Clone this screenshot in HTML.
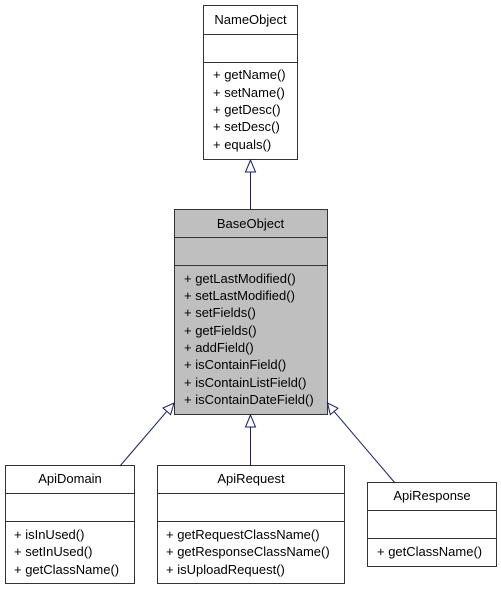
<!DOCTYPE html>
<html><head><meta charset="utf-8"><style>
html,body{margin:0;padding:0;background:#fff;}
svg{display:block;}
text{font-family:"Liberation Sans",Arial,sans-serif;font-size:13px;fill:#000;}
</style></head><body>
<svg width="501" height="589" viewBox="0 0 501 589" xmlns="http://www.w3.org/2000/svg">
<g stroke="#333" stroke-width="1" fill="#fff">
<rect x="203.5" y="5.5" width="94" height="154"/>
<line x1="203.5" y1="34.5" x2="297.5" y2="34.5"/>
<line x1="203.5" y1="62.5" x2="297.5" y2="62.5"/>
<rect x="174.5" y="209.5" width="153" height="205" fill="#bfbfbf"/>
<line x1="174.5" y1="237.5" x2="327.5" y2="237.5"/>
<line x1="174.5" y1="265.5" x2="327.5" y2="265.5"/>
<rect x="5.5" y="465.5" width="129" height="118"/>
<line x1="5.5" y1="493.5" x2="134.5" y2="493.5"/>
<line x1="5.5" y1="521.5" x2="134.5" y2="521.5"/>
<rect x="157.5" y="465.5" width="187" height="118"/>
<line x1="157.5" y1="493.5" x2="344.5" y2="493.5"/>
<line x1="157.5" y1="521.5" x2="344.5" y2="521.5"/>
<rect x="367.5" y="482.5" width="129" height="84"/>
<line x1="367.5" y1="510.5" x2="496.5" y2="510.5"/>
<line x1="367.5" y1="538.5" x2="496.5" y2="538.5"/>
</g>
<g stroke="#191970" stroke-width="1" fill="#fff">
<line x1="250.5" y1="172" x2="250.5" y2="209"/>
<polygon points="250.5,160 245.5,172 255.5,172"/>
<line x1="250.5" y1="427" x2="250.5" y2="465"/>
<polygon points="250.5,415 245.5,427 255.5,427"/>
<line x1="120" y1="466" x2="166.8" y2="411.3"/>
<polygon points="174,403 170.6,414.6 163,408"/>
<line x1="395" y1="483" x2="334.1" y2="411.4"/>
<polygon points="327.5,403 337.9,408.2 330.3,414.6"/>
</g>
<text x="250.5" y="24" text-anchor="middle">NameObject</text>
<text x="213" y="79">+ getName()</text>
<text x="213" y="97">+ setName()</text>
<text x="213" y="114">+ getDesc()</text>
<text x="213" y="131">+ setDesc()</text>
<text x="213" y="149">+ equals()</text>

<text x="250.5" y="228" text-anchor="middle">BaseObject</text>
<text x="184" y="283">+ getLastModified()</text>
<text x="184" y="300">+ setLastModified()</text>
<text x="184" y="317">+ setFields()</text>
<text x="184" y="335">+ getFields()</text>
<text x="184" y="352">+ addField()</text>
<text x="184" y="369">+ isContainField()</text>
<text x="184" y="387">+ isContainListField()</text>
<text x="184" y="404">+ isContainDateField()</text>

<text x="70" y="483" text-anchor="middle">ApiDomain</text>
<text x="14" y="539">+ isInUsed()</text>
<text x="14" y="556">+ setInUsed()</text>
<text x="14" y="574">+ getClassName()</text>

<text x="251" y="483" text-anchor="middle">ApiRequest</text>
<text x="166" y="539">+ getRequestClassName()</text>
<text x="166" y="556">+ getResponseClassName()</text>
<text x="166" y="574">+ isUploadRequest()</text>

<text x="432" y="500" text-anchor="middle">ApiResponse</text>
<text x="377" y="556">+ getClassName()</text>
</svg>
</body></html>
